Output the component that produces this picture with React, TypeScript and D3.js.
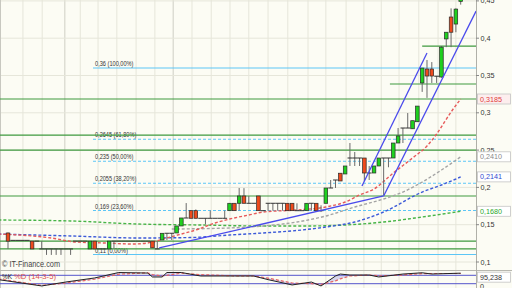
import React from "react";
import * as d3 from "d3";

// ---------- DATA ----------
const opens = [
  0.1389, 0.129, 0.129, 0.129, 0.129, 0.128, 0.128, 0.1175, 0.1175, 0.1175,
  0.1175, 0.1175, 0.1175, 0.1175, 0.128, 0.128, 0.128, 0.1175, 0.128, 0.1175,
  0.1175, 0.1175, 0.128, 0.128, 0.128, 0.128, 0.128, 0.128, 0.128, 0.128,
  0.128, 0.1175, 0.1295, 0.1385, 0.1385, 0.1389, 0.1483, 0.159, 0.1688, 0.1688,
  0.1586, 0.1586, 0.1586, 0.1586, 0.1586, 0.1586, 0.1688, 0.1787, 0.1787, 0.1885,
  0.1787, 0.1787, 0.1885, 0.1688, 0.1787, 0.1787, 0.1787, 0.1787, 0.1787, 0.1787,
  0.1688, 0.1688, 0.1688, 0.1787, 0.1787, 0.1688, 0.1787, 0.1992, 0.2099, 0.219,
  0.218, 0.2394, 0.2394, 0.2394, 0.2394, 0.2193, 0.2193, 0.2287, 0.2394, 0.2394,
  0.2394, 0.2595, 0.2796, 0.2796, 0.2786, 0.288, 0.34, 0.3587, 0.3587, 0.349,
  0.348, 0.399, 0.4284, 0.419, 0.4494,
];
const highs = [
  0.1395, 0.129, 0.129, 0.129, 0.129, 0.128, 0.128, 0.128, 0.1175, 0.1175,
  0.1175, 0.1175, 0.1175, 0.1175, 0.128, 0.128, 0.128, 0.128, 0.128, 0.1175,
  0.1175, 0.128, 0.128, 0.128, 0.128, 0.128, 0.128, 0.128, 0.128, 0.128,
  0.128, 0.128, 0.1385, 0.1385, 0.1385, 0.1483, 0.159, 0.179, 0.1688, 0.1705,
  0.1586, 0.1586, 0.169, 0.1586, 0.1586, 0.169, 0.1787, 0.1787, 0.1992, 0.199,
  0.1885, 0.1787, 0.1885, 0.1688, 0.1787, 0.1787, 0.1787, 0.1787, 0.1787, 0.1787,
  0.1787, 0.1688, 0.1787, 0.1787, 0.1787, 0.176, 0.1992, 0.2099, 0.2099, 0.219,
  0.2287, 0.2595, 0.2475, 0.2394, 0.2394, 0.2287, 0.2287, 0.2394, 0.2394, 0.2394,
  0.2595, 0.2796, 0.2796, 0.2997, 0.2894, 0.309, 0.36, 0.3708, 0.368, 0.349,
  0.3895, 0.408, 0.44, 0.44, 0.47,
];
const lows = [
  0.1175, 0.129, 0.129, 0.129, 0.129, 0.1175, 0.128, 0.1175, 0.1095, 0.1095,
  0.1095, 0.1095, 0.1175, 0.1095, 0.128, 0.128, 0.128, 0.1175, 0.1175, 0.1175,
  0.1175, 0.1175, 0.1175, 0.128, 0.128, 0.128, 0.128, 0.128, 0.128, 0.128,
  0.119, 0.1175, 0.1295, 0.1295, 0.1295, 0.1389, 0.1483, 0.159, 0.1586, 0.1586,
  0.1586, 0.1505, 0.1586, 0.1586, 0.1586, 0.1586, 0.1688, 0.1688, 0.169, 0.1787,
  0.1787, 0.1787, 0.1688, 0.1688, 0.1688, 0.1688, 0.1688, 0.1688, 0.1688, 0.1688,
  0.1688, 0.1688, 0.1688, 0.1688, 0.1688, 0.167, 0.1787, 0.1992, 0.1992, 0.2086,
  0.218, 0.2287, 0.2287, 0.2287, 0.2086, 0.2099, 0.2193, 0.2287, 0.1898, 0.227,
  0.2394, 0.2595, 0.2595, 0.2796, 0.2786, 0.288, 0.328, 0.32, 0.34, 0.34,
  0.347, 0.388, 0.388, 0.408, 0.445,
];
const closes = [
  0.128, 0.129, 0.129, 0.129, 0.129, 0.1175, 0.128, 0.1175, 0.1175, 0.1175,
  0.1175, 0.1175, 0.1175, 0.1175, 0.128, 0.128, 0.128, 0.128, 0.1175, 0.1175,
  0.1175, 0.128, 0.128, 0.128, 0.128, 0.128, 0.128, 0.128, 0.128, 0.128,
  0.119, 0.1175, 0.1385, 0.1385, 0.1385, 0.1483, 0.159, 0.159, 0.1586, 0.1586,
  0.1586, 0.1586, 0.1586, 0.1586, 0.1586, 0.1586, 0.1787, 0.1688, 0.1885, 0.1787,
  0.1787, 0.1787, 0.1688, 0.1688, 0.1787, 0.1787, 0.1787, 0.1787, 0.1688, 0.1688,
  0.1688, 0.1688, 0.1787, 0.1787, 0.1688, 0.1688, 0.1992, 0.1992, 0.2099, 0.2086,
  0.2287, 0.2394, 0.2394, 0.2394, 0.2193, 0.2193, 0.2287, 0.2394, 0.2394, 0.2394,
  0.2595, 0.269, 0.2796, 0.2796, 0.2894, 0.309, 0.36, 0.3493, 0.3493, 0.349,
  0.388, 0.408, 0.408, 0.439, 0.47,
];

// moving averages (sampled at candle indices)
const maRedIdx = [-2, 5, 9, 14, 20, 26, 29, 33, 36, 39, 43, 46, 50, 53, 60, 66, 70, 73, 76, 80, 84, 87, 89, 92, 94];
const maRedVal = [0.1375, 0.1349, 0.1322, 0.1268, 0.1255, 0.1241, 0.1255, 0.1322, 0.1375, 0.1429, 0.1523, 0.1576, 0.163, 0.167, 0.1697, 0.1737, 0.1804, 0.1898, 0.1979, 0.2193, 0.2394, 0.2555, 0.2716, 0.3011, 0.3185];
const maGreyIdx = [34, 46, 53, 60, 66, 72, 78, 82, 86, 90, 94];
const maGreyVal = [0.1442, 0.1456, 0.1483, 0.1536, 0.1617, 0.1737, 0.1845, 0.1938, 0.2072, 0.2233, 0.241];
const maBlueIdx = [-2, 13, 27, 38, 46, 53, 61, 66, 72, 78, 86, 90, 94];
const maBlueVal = [0.1375, 0.1349, 0.1322, 0.1328, 0.1362, 0.1389, 0.1429, 0.1469, 0.1536, 0.167, 0.1938, 0.2032, 0.2141];
const maGreenIdx = [-2, 13, 27, 40, 52, 62, 70, 78, 86, 94];
const maGreenVal = [0.1563, 0.155, 0.1509, 0.1496, 0.1483, 0.1483, 0.1496, 0.1536, 0.1603, 0.168];

// horizontal support / resistance lines
const supportLevels = [0.3185, 0.27, 0.25, 0.1885, 0.128, 0.1175];
const shortLevels = [0.3895, 0.3386];
const shortLevelStartIdx = [86, 79.3];

// fibonacci retracement
const fibLevels = [0.36, 0.2645, 0.235, 0.2055, 0.169, 0.11];
const fibLabels = ["0,36 (100,00%)", "0,2645 (61,80%)", "0,235 (50,00%)", "0,2055 (38,20%)", "0,169 (23,60%)", "0,11 (0,00%)"];
const fibStartIdx = 17.65;

// trend lines
const trendStartIdx = [31.4, 78, 73.5];
const trendStartVal = [0.1188, 0.1885, 0.2019];
const trendEndIdx = [78, 97.2, 87];
const trendEndVal = [0.1885, 0.4365, 0.3802];

// axis
const yTicks = [0.1, 0.15, 0.2, 0.25, 0.3, 0.35, 0.4, 0.45];
const gridIdx = [3.1, 7.1, 11.8, 15, 18.7, 22.6, 26.6, 30.5, 34.3, 38.2, 42.2, 46.1, 50, 54, 58.1, 62.3, 66, 70.2, 73.9, 77.5, 81.2, 85.3, 89.3, 93];
const gridDarkIdx = [11.8, 34.3];

// stochastic
const stochIdx = [-2, 7, 12, 18, 23, 29, 30, 32, 33, 36, 40, 47, 51, 54, 59, 63, 65, 68, 69, 71, 75, 77, 82, 86, 88, 94];
const stochK = [49, 4, 32, 61, 100, 96, 68, 68, 100, 100, 75, 75, 75, 49, 11, 32, 4, 75, 89, 82, 82, 68, 89, 98, 89, 95.238];
const stochD = [55, 8, 25, 52, 88, 98, 85, 75, 80, 95, 85, 76, 75, 60, 25, 20, 15, 40, 55, 75, 82, 76, 82, 92, 93, 93];
const stochLevels = [20, 80];

// ---------- CHART ----------
const W = 512;
const H = 288;
const PR = 476; // plot right edge
const MB = 270; // main panel bottom
const FONT = "'Liberation Sans', Arial, sans-serif";

const fmt = (v: number) => String(v).replace(".", ",");

export default function App() {
  const x = d3.scaleLinear().domain([0, 94]).range([8, 460.7]);
  const y = d3.scaleLinear().domain([0.1, 0.45]).range([262, 0.9]);
  const ys = d3.scaleLinear().domain([0, 100]).range([286.5, 272.5]);

  const maLine = d3
    .line<[number, number]>()
    .x((d) => x(d[0]))
    .y((d) => y(d[1]))
    .curve(d3.curveMonotoneX);
  const zip = (a: number[], b: number[]) => a.map((v, i) => [v, b[i]] as [number, number]);

  const stLine = d3
    .line<[number, number]>()
    .x((d) => x(d[0]))
    .y((d) => ys(d[1]));
  const stArea = d3
    .area<number>()
    .x((d) => x(stochIdx[d]))
    .y0((d) => ys(stochD[d]))
    .y1((d) => ys(stochK[d]));

  const mas = [
    { idx: maGreenIdx, val: maGreenVal, color: "#46b446" },
    { idx: maBlueIdx, val: maBlueVal, color: "#3c5ad8" },
    { idx: maGreyIdx, val: maGreyVal, color: "#a4a4a4" },
    { idx: maRedIdx, val: maRedVal, color: "#e65a5a" },
  ];

  const boxLabels = [
    { v: maRedVal[maRedVal.length - 1], color: "#e03a3a", bg: "#fdeeee" },
    { v: maGreyVal[maGreyVal.length - 1], color: "#8a8a8a", bg: "#ffffff" },
    { v: maBlueVal[maBlueVal.length - 1], color: "#3048d0", bg: "#ffffff" },
    { v: maGreenVal[maGreenVal.length - 1], color: "#2aa82a", bg: "#ffffff" },
  ];

  const bw = 3.6;

  return (
    <svg
      width={W}
      height={H}
      viewBox={`0 0 ${W} ${H}`}
      style={{ position: "absolute", left: 0, top: 0, fontFamily: FONT }}
    >
      <defs>
        <clipPath id="mainClip">
          <rect x={0} y={0} width={PR} height={MB} />
        </clipPath>
        <clipPath id="stClip">
          <rect x={0} y={MB + 1} width={PR} height={H - MB - 1} />
        </clipPath>
      </defs>
      <rect x={0} y={0} width={W} height={H} fill="#fcfcf4" />

      {/* grid */}
      {gridIdx.map((g, i) => (
        <line
          key={"g" + i}
          x1={x(g)}
          x2={x(g)}
          y1={0}
          y2={H}
          stroke={gridDarkIdx.includes(g) ? "#cfcfc4" : "#e6e6da"}
          strokeWidth={1}
        />
      ))}
      {yTicks.map((t) => (
        <line key={"h" + t} x1={0} x2={PR} y1={y(t)} y2={y(t)} stroke="#e6e6da" strokeWidth={1} />
      ))}
      <line x1={0.5} x2={0.5} y1={0} y2={H} stroke="#c8c8c0" />

      <g clipPath="url(#mainClip)">
        {/* fib lines */}
        {fibLevels.map((f, i) => (
          <g key={"f" + i}>
            <line
              x1={x(fibStartIdx)}
              x2={PR}
              y1={y(f)}
              y2={y(f)}
              stroke="#5cc6f6"
              strokeWidth={1.1}
              strokeDasharray={i === 0 || i === fibLevels.length - 1 ? undefined : "3,2"}
            />
            <text
              x={x(fibStartIdx) + 2}
              y={y(f) - 2}
              fontSize={7}
              fill="#333"
              textLength={fibLabels[i].length * 2.75}
              lengthAdjust="spacingAndGlyphs"
            >
              {fibLabels[i]}
            </text>
          </g>
        ))}

        {/* support lines */}
        {supportLevels.map((s) => (
          <line key={"s" + s} x1={0} x2={PR} y1={y(s)} y2={y(s)} stroke="#3f9a3f" strokeWidth={1.2} />
        ))}
        {shortLevels.map((s, i) => (
          <line
            key={"ss" + s}
            x1={x(shortLevelStartIdx[i])}
            x2={PR}
            y1={y(s)}
            y2={y(s)}
            stroke="#3f9a3f"
            strokeWidth={1.2}
          />
        ))}

        {/* moving averages */}
        {mas.map((m, i) => (
          <path
            key={"ma" + i}
            d={maLine(zip(m.idx, m.val)) || ""}
            fill="none"
            stroke={m.color}
            strokeWidth={1.4}
            strokeDasharray="3,2"
          />
        ))}

        {/* candles */}
        {opens.map((o, i) => {
          const c = closes[i];
          const cx = x(i);
          const doji = Math.abs(o - c) < 0.0004;
          const up = c > o;
          return (
            <g key={"c" + i}>
              {highs[i] - lows[i] > 0.0004 && (
                <line x1={cx} x2={cx} y1={y(highs[i])} y2={y(lows[i])} stroke="#6a6a6a" strokeWidth={1} />
              )}
              {doji ? (
                <line x1={cx - 2.4} x2={cx + 2.4} y1={y(o)} y2={y(o)} stroke="#333" strokeWidth={1} />
              ) : (
                <rect
                  x={cx - bw / 2}
                  y={y(Math.max(o, c))}
                  width={bw}
                  height={Math.max(1, Math.abs(y(o) - y(c)))}
                  fill={up ? "#1fd01f" : "#ef4a1c"}
                  stroke="#2a2a2a"
                  strokeWidth={0.7}
                />
              )}
            </g>
          );
        })}

        {/* trend lines */}
        {trendStartIdx.map((t, i) => (
          <line
            key={"t" + i}
            x1={x(t)}
            y1={y(trendStartVal[i])}
            x2={x(trendEndIdx[i])}
            y2={y(trendEndVal[i])}
            stroke="#4a4aec"
            strokeWidth={1.3}
          />
        ))}
      </g>

      <text x={2} y={267} fontSize={9} fill="#444" textLength={58} lengthAdjust="spacingAndGlyphs">
        © IT-Finance.com
      </text>

      {/* panel separator */}
      <line x1={0} x2={W} y1={MB + 0.5} y2={MB + 0.5} stroke="#b8b8b0" strokeWidth={1} />

      {/* stochastic panel */}
      <g clipPath="url(#stClip)">
        {stochLevels.map((l) => (
          <line key={"sl" + l} x1={0} x2={PR} y1={ys(l)} y2={ys(l)} stroke="#5454cc" strokeWidth={1} />
        ))}
        <path d={stArea(d3.range(stochIdx.length)) || ""} fill="#8c8ce0" fillOpacity={0.35} />
        <path d={stLine(zip(stochIdx, stochD)) || ""} fill="none" stroke="#e46464" strokeWidth={1.2} strokeDasharray="3,2" />
        <path d={stLine(zip(stochIdx, stochK)) || ""} fill="none" stroke="#222" strokeWidth={1} />
      </g>
      <text x={2} y={279} fontSize={8} fill="#222" textLength={10} lengthAdjust="spacingAndGlyphs">
        %K
      </text>
      <text x={14} y={279} fontSize={8} fill="#e05050" textLength={42} lengthAdjust="spacingAndGlyphs">
        %D (14-3-5)
      </text>

      {/* right axis */}
      <line x1={PR + 0.5} x2={PR + 0.5} y1={0} y2={H} stroke="#b0b0a8" strokeWidth={1} />
      {yTicks.map((t) => (
        <g key={"yt" + t}>
          <line x1={PR} x2={PR + 3} y1={y(t)} y2={y(t)} stroke="#888" />
          <text x={PR + 4.5} y={y(t)} dy="0.35em" fontSize={7.2} fill="#333">
            {fmt(t)}
          </text>
        </g>
      ))}
      {boxLabels.map((b, i) => (
        <g key={"bl" + i}>
          <rect x={PR + 1.5} y={y(b.v) - 5} width={33} height={10} fill={b.bg} stroke="#c4c4c4" strokeWidth={0.8} />
          <text x={PR + 4} y={y(b.v)} dy="0.35em" fontSize={7.2} fill={b.color}>
            {b.v.toFixed(4).replace(".", ",")}
          </text>
        </g>
      ))}
      <rect x={PR + 1.5} y={ys(stochK[stochK.length - 1]) - 1} width={33} height={10} fill="#fff" stroke="#c4c4c4" strokeWidth={0.8} />
      <text x={PR + 4} y={ys(stochK[stochK.length - 1]) + 4} dy="0.35em" fontSize={7.2} fill="#333">
        {fmt(stochK[stochK.length - 1])}
      </text>
      <text x={PR + 4} y={ys(0)} dy="0.35em" fontSize={7.2} fill="#333">
        0
      </text>
    </svg>
  );
}
